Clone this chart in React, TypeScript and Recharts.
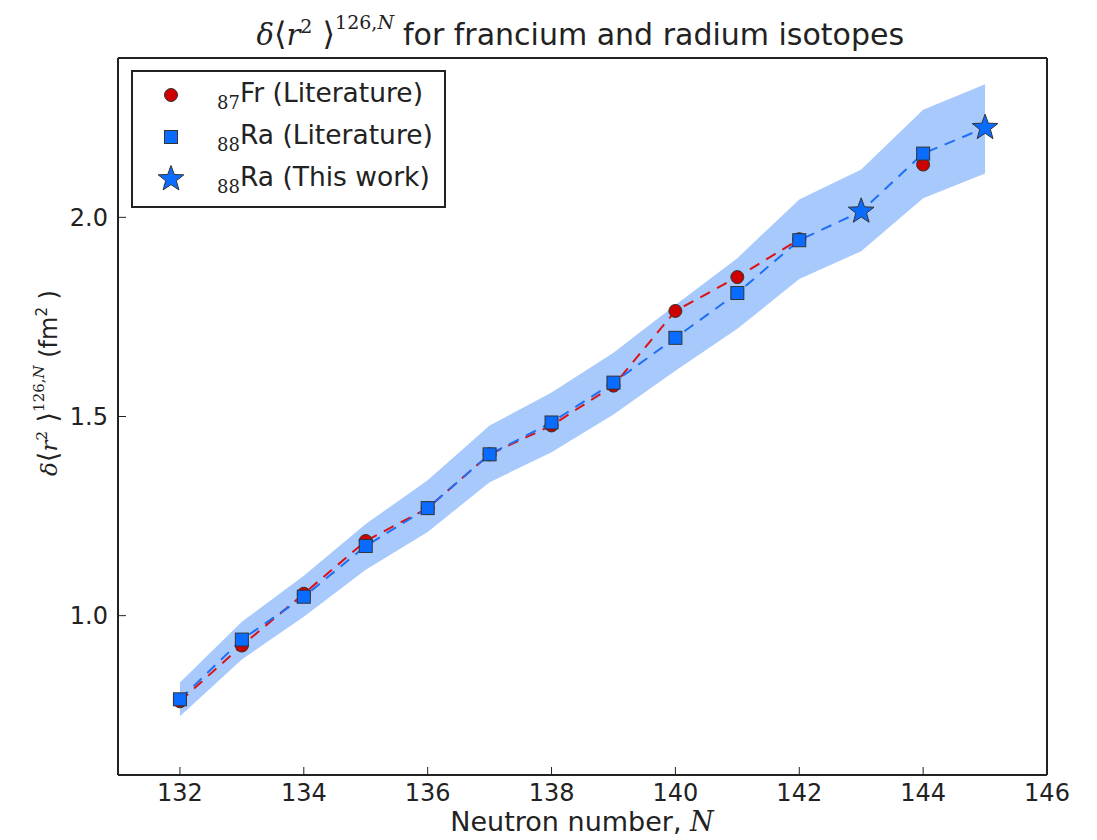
import React from "react";
import { ComposedChart, Area, Line, XAxis, YAxis } from "recharts";

// Neutron numbers
const N_ALL = [132, 133, 134, 135, 136, 137, 138, 139, 140, 141, 142, 143, 144, 145];
const N_FR = [132, 133, 134, 135, 136, 137, 138, 139, 140, 141, 142, 144];
const FR_VALUES = [0.785, 0.925, 1.055, 1.1875, 1.27, 1.405, 1.4775, 1.5775, 1.765, 1.85, 1.945, 2.1325];
const N_RA_LIT = [132, 133, 134, 135, 136, 137, 138, 139, 140, 141, 142, 144];
const RA_LIT_VALUES = [0.79, 0.94, 1.0475, 1.175, 1.27, 1.405, 1.485, 1.585, 1.6975, 1.81, 1.9425, 2.16];
const N_RA_THIS = [143, 145];
const RA_THIS_VALUES = [2.015, 2.225];
const BAND_LOW = [0.7475, 0.89, 0.9975, 1.115, 1.21, 1.335, 1.41, 1.505, 1.615, 1.72, 1.845, 1.915, 2.048, 2.11];
const BAND_HIGH = [0.8325, 0.985, 1.1, 1.23, 1.34, 1.4775, 1.56, 1.66, 1.78, 1.8975, 2.045, 2.12, 2.27, 2.334];
const X_TICKS = [132, 134, 136, 138, 140, 142, 144, 146];
const Y_TICKS = [1.0, 1.5, 2.0];

const pick = (ns: number[], vs: number[], n: number) => {
  const i = ns.indexOf(n);
  return i >= 0 ? vs[i] : null;
};

const data = N_ALL.map((n, i) => {
  const raLit = pick(N_RA_LIT, RA_LIT_VALUES, n);
  const raThis = pick(N_RA_THIS, RA_THIS_VALUES, n);
  return {
    n,
    fr: pick(N_FR, FR_VALUES, n),
    raLit,
    raThis,
    ra: raLit !== null ? raLit : raThis,
    band: [BAND_LOW[i], BAND_HIGH[i]],
  };
});

const RED = "#cc0000";
const RED_LINE = "#dd1111";
const BLUE = "#0a6cff";
const BLUE_LINE = "#1f6ff5";
const BAND = "#a8c9fc";
const EDGE = "#333333";
const AXIS = "#222222";
const SANS = "'DejaVu Sans', sans-serif";
const SERIF = "'DejaVu Serif', serif";

const starPoints = (cx: number, cy: number, R: number, r: number) => {
  const pts: string[] = [];
  for (let k = 0; k < 10; k++) {
    const rad = k % 2 === 0 ? R : r;
    const a = -Math.PI / 2 + (k * Math.PI) / 5;
    pts.push(`${cx + rad * Math.cos(a)},${cy + rad * Math.sin(a)}`);
  }
  return pts.join(" ");
};

const CircleDot = (props: any) => {
  const { cx, cy, value, index } = props;
  if (value === null || value === undefined || cy == null) return <g key={`c${index}`} />;
  return <circle key={`c${index}`} cx={cx} cy={cy} r={6.5} fill={RED} stroke={EDGE} strokeWidth={1} />;
};
const SquareDot = (props: any) => {
  const { cx, cy, value, index } = props;
  if (value === null || value === undefined || cy == null) return <g key={`s${index}`} />;
  return <rect key={`s${index}`} x={cx - 6.5} y={cy - 6.5} width={13} height={13} fill={BLUE} stroke={EDGE} strokeWidth={1} />;
};
const StarDot = (props: any) => {
  const { cx, cy, value, index } = props;
  if (value === null || value === undefined || cy == null) return <g key={`t${index}`} />;
  return <polygon key={`t${index}`} points={starPoints(cx, cy, 13.5, 5.6)} fill={BLUE} stroke={EDGE} strokeWidth={1} />;
};

const tickStyle = { fontFamily: SANS, fontSize: 24, fill: "#222" };

const LegendRow = ({ marker, sub, label }: { marker: React.ReactNode; sub: string; label: string }) => (
  <div style={{ display: "flex", alignItems: "center", height: 42 }}>
    <svg width={60} height={30} style={{ flex: "none" }}>
      {marker}
    </svg>
    <div style={{ marginLeft: 24, fontFamily: SANS, fontSize: 26.5, color: "#222", whiteSpace: "nowrap" }}>
      <sub style={{ fontFamily: SERIF, fontSize: 18, verticalAlign: "-7px" }}>{sub}</sub>
      {label}
    </div>
  </div>
);

export default function App() {
  return (
    <div style={{ position: "relative", width: 1089, height: 832 }}>
      <ComposedChart
        width={1089}
        height={830}
        data={data}
        margin={{ top: 49, right: 49, bottom: 23, left: 50 }}
      >
        <XAxis
          xAxisId="b"
          dataKey="n"
          type="number"
          domain={[131, 146]}
          ticks={X_TICKS}
          allowDataOverflow
          height={40}
          tickSize={-8}
          tickMargin={17}
          axisLine={{ stroke: AXIS, strokeWidth: 2 }}
          tickLine={{ stroke: AXIS, strokeWidth: 1 }}
          tick={tickStyle}
          interval={0}
        />
        <XAxis
          xAxisId="t"
          orientation="top"
          dataKey="n"
          type="number"
          domain={[131, 146]}
          ticks={X_TICKS}
          allowDataOverflow
          height={1}
          tickSize={-8}
          tick={false}
          axisLine={{ stroke: AXIS, strokeWidth: 2 }}
          tickLine={{ stroke: AXIS, strokeWidth: 1 }}
          interval={0}
        />
        <YAxis
          yAxisId="l"
          type="number"
          domain={[0.6, 2.4]}
          ticks={Y_TICKS}
          allowDataOverflow
          width={60}
          tickSize={-8}
          tickMargin={18}
          tickFormatter={(v: number) => v.toFixed(1)}
          axisLine={{ stroke: AXIS, strokeWidth: 2 }}
          tickLine={{ stroke: AXIS, strokeWidth: 1 }}
          tick={tickStyle}
          interval={0}
        />
        <YAxis
          yAxisId="r"
          orientation="right"
          type="number"
          domain={[0.6, 2.4]}
          ticks={Y_TICKS}
          allowDataOverflow
          width={1}
          tickSize={-8}
          tick={false}
          axisLine={{ stroke: AXIS, strokeWidth: 2 }}
          tickLine={{ stroke: AXIS, strokeWidth: 1 }}
          interval={0}
        />
        <Area
          xAxisId="b"
          yAxisId="l"
          type="linear"
          dataKey="band"
          stroke="none"
          fill={BAND}
          fillOpacity={1}
          isAnimationActive={false}
          dot={false}
          activeDot={false}
        />
        <Line
          xAxisId="b"
          yAxisId="l"
          type="linear"
          dataKey="fr"
          stroke={RED_LINE}
          strokeWidth={2}
          strokeDasharray="11 8"
          connectNulls={false}
          dot={false}
          activeDot={false}
          isAnimationActive={false}
        />
        <Line
          xAxisId="b"
          yAxisId="l"
          type="linear"
          dataKey="ra"
          stroke={BLUE_LINE}
          strokeWidth={2}
          strokeDasharray="11 8"
          connectNulls
          dot={false}
          activeDot={false}
          isAnimationActive={false}
        />
        <Line
          xAxisId="b"
          yAxisId="l"
          type="linear"
          dataKey="fr"
          stroke="none"
          strokeWidth={0}
          dot={CircleDot}
          activeDot={false}
          isAnimationActive={false}
        />
        <Line
          xAxisId="b"
          yAxisId="l"
          type="linear"
          dataKey="raLit"
          stroke="none"
          strokeWidth={0}
          dot={SquareDot}
          activeDot={false}
          isAnimationActive={false}
        />
        <Line
          xAxisId="b"
          yAxisId="l"
          type="linear"
          dataKey="raThis"
          stroke="none"
          strokeWidth={0}
          dot={StarDot}
          activeDot={false}
          isAnimationActive={false}
        />
      </ComposedChart>

      <svg
        width={1089}
        height={832}
        style={{ position: "absolute", left: 0, top: 0, pointerEvents: "none" }}
      >
        {/* Title */}
        <text x={386} y={37} textAnchor="end" fill="#222" fontFamily={SERIF} fontSize={29}>
          <tspan fontStyle="italic">δ</tspan>
          <tspan fontSize={32}>⟨</tspan>
          <tspan fontStyle="italic">r</tspan>
          <tspan fontSize={19} dy={-12}>2</tspan>
          <tspan dy={12} fontSize={32}> ⟩</tspan>
          <tspan fontSize={19} dy={-16}>126,</tspan>
          <tspan fontSize={19} fontStyle="italic">N</tspan>
        </text>
        <text x={395} y={37} fill="#222" fontFamily={SANS} fontSize={30}>
          for francium and radium isotopes
        </text>

        {/* Y label */}
        <text
          transform="translate(49,375) rotate(-90)"
          textAnchor="middle"
          fill="#222"
          fontFamily={SERIF}
          fontSize={23}
        >
          <tspan fontStyle="italic">δ</tspan>
          <tspan fontSize={27}>⟨</tspan>
          <tspan fontStyle="italic">r</tspan>
          <tspan fontSize={15} dy={-10}>2</tspan>
          <tspan dy={10} fontSize={27}> ⟩</tspan>
          <tspan fontSize={15} dy={-13}>126,</tspan>
          <tspan fontSize={15} fontStyle="italic">N</tspan>
          <tspan dy={13} fontFamily={SANS} fontSize={24}>  (fm</tspan>
          <tspan fontFamily={SANS} fontSize={15} dy={-10}>2</tspan>
          <tspan fontFamily={SANS} fontSize={24} dy={10}> )</tspan>
        </text>

        {/* X label */}
        <text x={574} y={823} textAnchor="middle" fill="#222" fontFamily={SANS} fontSize={27}>
          Neutron number,{" "}
          <tspan fontFamily={SERIF} fontStyle="italic">N</tspan>
        </text>
      </svg>

      {/* Legend */}
      <div
        style={{
          position: "absolute",
          left: 123,
          top: 62,
          width: 311,
          height: 132,
          border: `2px solid ${AXIS}`,
          background: "#fff",
          paddingTop: 2,
          boxSizing: "content-box",
        }}
      >
        <LegendRow
          marker={<circle cx={38} cy={15} r={6.5} fill={RED} stroke={EDGE} strokeWidth={1} />}
          sub="87"
          label="Fr (Literature)"
        />
        <LegendRow
          marker={<rect x={31.5} y={8.5} width={13} height={13} fill={BLUE} stroke={EDGE} strokeWidth={1} />}
          sub="88"
          label="Ra (Literature)"
        />
        <LegendRow
          marker={<polygon points={starPoints(38, 15, 13.5, 5.6)} fill={BLUE} stroke={EDGE} strokeWidth={1} />}
          sub="88"
          label="Ra (This work)"
        />
      </div>
    </div>
  );
}
